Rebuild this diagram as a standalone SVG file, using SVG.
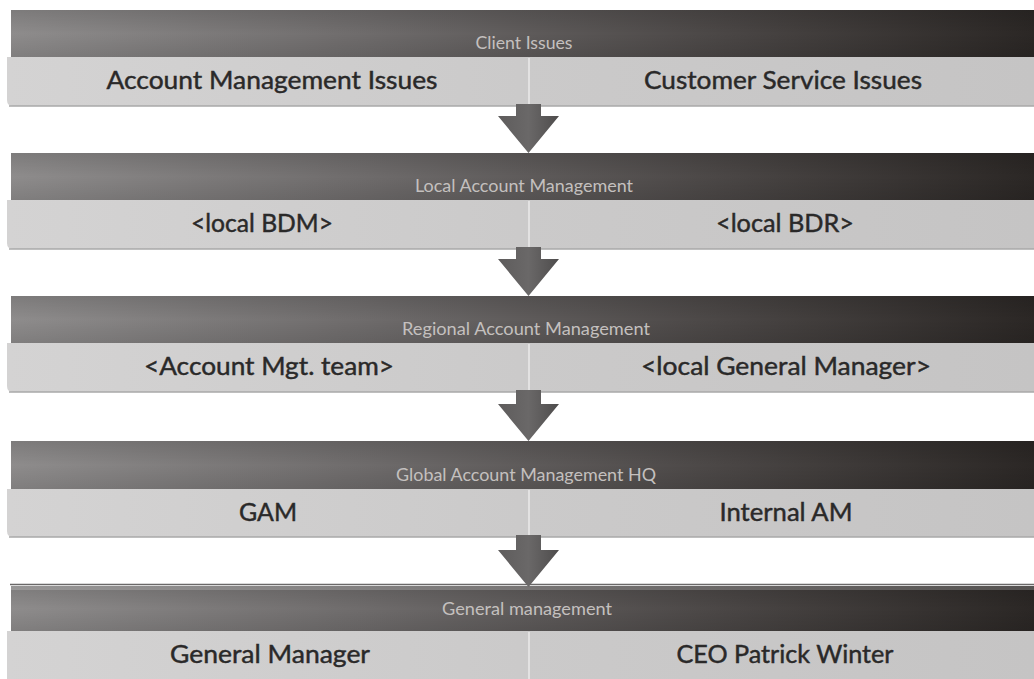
<svg xmlns="http://www.w3.org/2000/svg" width="1034" height="679" viewBox="0 0 1034 679">
  <defs>
    <linearGradient id="darkG" x1="0" y1="0" x2="1" y2="0">
      <stop offset="0" stop-color="#8e8c8c"/>
      <stop offset="0.35" stop-color="#6e6b6b"/>
      <stop offset="0.7" stop-color="#4a4645"/>
      <stop offset="1" stop-color="#2b2725"/>
    </linearGradient>
    <linearGradient id="darkV" x1="0" y1="0" x2="0" y2="1">
      <stop offset="0" stop-color="#000" stop-opacity="0.12"/>
      <stop offset="0.5" stop-color="#000" stop-opacity="0"/>
      <stop offset="1" stop-color="#000" stop-opacity="0.1"/>
    </linearGradient>
    <linearGradient id="lightG" x1="0" y1="0" x2="1" y2="0">
      <stop offset="0" stop-color="#d4d3d3"/>
      <stop offset="0.5" stop-color="#cbcaca"/>
      <stop offset="1" stop-color="#c5c4c4"/>
    </linearGradient>
    <linearGradient id="arrowG" x1="0" y1="0" x2="1" y2="0">
      <stop offset="0" stop-color="#5e5c5c"/>
      <stop offset="0.5" stop-color="#6a6868"/>
      <stop offset="1" stop-color="#4e4c4c"/>
    </linearGradient>
  </defs>
  <style>
    .dark { fill: url(#darkG); }
    .shade { fill: url(#darkV); }
    .light { fill: url(#lightG); }
    .edge { fill: none; stroke: #a9a8a8; stroke-width: 1.5; }
    .div { stroke: #ebeaea; stroke-width: 1.5; }
    .title { font-family: Lato, "Open Sans", "Liberation Sans", sans-serif; font-size: 18px; fill: #c4c0bf; text-anchor: middle; }
    .label { font-family: Lato, "Open Sans", "Liberation Sans", sans-serif; font-size: 25px; fill: #2a2929; stroke: #2a2929; stroke-width: 0.45; text-anchor: middle; }
    .arrow { fill: url(#arrowG); }
  </style>
  <rect width="1034" height="679" fill="#ffffff"/>

  <g id="row-client-issues">
    <rect class="dark" x="11" y="10" width="1023" height="47"/>
    <rect class="shade" x="11" y="10" width="1023" height="47"/>
    <path class="light" d="M7 57 H1034 V106 H13 Q7 106 7 100 Z"/>
    <line class="edge" x1="9" y1="106" x2="1034" y2="106"/>
    <line class="div" x1="529" y1="58" x2="529" y2="105"/>
    <text class="title" x="524" y="49" textLength="97" lengthAdjust="spacingAndGlyphs">Client Issues</text>
    <text class="label" x="272" y="89" textLength="331" lengthAdjust="spacingAndGlyphs">Account Management Issues</text>
    <text class="label" x="783" y="89" textLength="278" lengthAdjust="spacingAndGlyphs">Customer Service Issues</text>
  </g>

  <g id="row-local-account-management">
    <rect class="dark" x="11" y="153" width="1023" height="47"/>
    <rect class="shade" x="11" y="153" width="1023" height="47"/>
    <path class="light" d="M7 200 H1034 V249 H13 Q7 249 7 243 Z"/>
    <line class="edge" x1="9" y1="249" x2="1034" y2="249"/>
    <line class="div" x1="529" y1="201" x2="529" y2="248"/>
    <text class="title" x="524" y="192" textLength="218" lengthAdjust="spacingAndGlyphs">Local Account Management</text>
    <text class="label" x="262" y="232" textLength="142" lengthAdjust="spacingAndGlyphs">&lt;local BDM&gt;</text>
    <text class="label" x="785" y="232" textLength="138" lengthAdjust="spacingAndGlyphs">&lt;local BDR&gt;</text>
  </g>

  <g id="row-regional-account-management">
    <rect class="dark" x="11" y="296" width="1023" height="47"/>
    <rect class="shade" x="11" y="296" width="1023" height="47"/>
    <path class="light" d="M7 343 H1034 V392 H13 Q7 392 7 386 Z"/>
    <line class="edge" x1="9" y1="392" x2="1034" y2="392"/>
    <line class="div" x1="529" y1="344" x2="529" y2="391"/>
    <text class="title" x="526" y="335" textLength="248" lengthAdjust="spacingAndGlyphs">Regional Account Management</text>
    <text class="label" x="269" y="375" textLength="250" lengthAdjust="spacingAndGlyphs">&lt;Account Mgt. team&gt;</text>
    <text class="label" x="786" y="375" textLength="290" lengthAdjust="spacingAndGlyphs">&lt;local General Manager&gt;</text>
  </g>

  <g id="row-global-account-management-hq">
    <rect class="dark" x="11" y="441" width="1023" height="48"/>
    <rect class="shade" x="11" y="441" width="1023" height="48"/>
    <path class="light" d="M7 489 H1034 V537 H13 Q7 537 7 531 Z"/>
    <line class="edge" x1="9" y1="537" x2="1034" y2="537"/>
    <line class="div" x1="529" y1="490" x2="529" y2="536"/>
    <text class="title" x="526" y="481" textLength="260" lengthAdjust="spacingAndGlyphs">Global Account Management HQ</text>
    <text class="label" x="268" y="521" textLength="58" lengthAdjust="spacingAndGlyphs">GAM</text>
    <text class="label" x="786" y="521" textLength="133" lengthAdjust="spacingAndGlyphs">Internal AM</text>
  </g>

  <g id="row-general-management">
    <line x1="10" y1="584.5" x2="1034" y2="584.5" stroke="#6a6868" stroke-width="1.5"/>
    <rect class="dark" x="11" y="586" width="1023" height="45"/>
    <rect x="11" y="586" width="1023" height="4" fill="#ffffff" opacity="0.25"/>
    <rect class="shade" x="11" y="586" width="1023" height="45"/>
    <path class="light" d="M7 631 H1034 V679 H7 Z"/>
    <line class="div" x1="529" y1="632" x2="529" y2="679"/>
    <text class="title" x="527" y="615" textLength="170" lengthAdjust="spacingAndGlyphs">General management</text>
    <text class="label" x="270" y="663" textLength="200" lengthAdjust="spacingAndGlyphs">General Manager</text>
    <text class="label" x="785" y="663" textLength="217" lengthAdjust="spacingAndGlyphs">CEO Patrick Winter</text>
  </g>

  <g id="connectors">
    <path class="arrow" d="M516 104 H541 V116 H559 L528.5 153 L498 116 H516 Z"/>
    <path class="arrow" d="M516 247 H541 V259 H559 L528.5 296 L498 259 H516 Z"/>
    <path class="arrow" d="M516 390 H541 V404 H559 L528.5 441 L498 404 H516 Z"/>
    <path class="arrow" d="M516 535 H541 V550 H559 L528.5 587 L498 550 H516 Z"/>
  </g>
</svg>
